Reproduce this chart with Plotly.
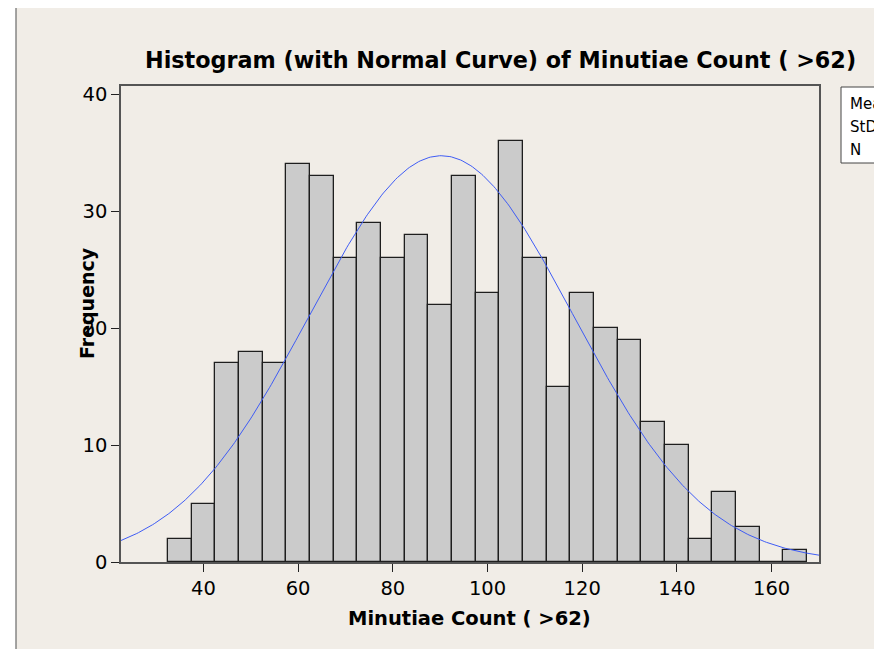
import numpy as np
import plotly.graph_objects as go

# ---- data ----
bin_centers = [35, 40, 45, 50, 55, 60, 65, 70, 75, 80, 85, 90, 95, 100, 105,
               110, 115, 120, 125, 130, 135, 140, 145, 150, 155, 160, 165]
counts = [2, 5, 17, 18, 17, 34, 33, 26, 29, 26, 28, 22, 33, 23, 36,
          26, 15, 23, 20, 19, 12, 10, 2, 6, 3, 0, 1]
bin_width = 5
x_ticks = [40, 60, 80, 100, 120, 140, 160]
y_ticks = [0, 10, 20, 30, 40]
MEAN = 90.25
STDEV = 27.9
N = sum(counts)

title = "Histogram (with Normal Curve) of Minutiae Count ( >62)"
x_title = "Minutiae Count ( >62)"
y_title = "Frequency"

# ---- layout geometry (page pixels); the page body has an 8px margin ----
OFF = 8
W, H = 882 - OFF, 649 - OFF
L, R, T, B = 121, 819, 86, 562
pw, ph = R - L, B - T
xr = [22.6, 170.0]
yr = [0, 40.71]


def px(x):
    return (x - L) / pw


def py(y):
    return (B - y) / ph


# fitted normal curve from the stated Mean / StDev / N
xc = np.linspace(xr[0], xr[1], 400)
yc = N * bin_width * np.exp(-0.5 * ((xc - MEAN) / STDEV) ** 2) / (STDEV * np.sqrt(2 * np.pi))

fig = go.Figure()
fig.add_trace(go.Bar(
    x=bin_centers, y=counts, width=bin_width,
    marker=dict(color="#cbcbcb", line=dict(color="#1e1e1e", width=1.3)),
    hoverinfo="x+y", showlegend=False,
))
fig.add_trace(go.Scatter(
    x=xc, y=yc, mode="lines",
    line=dict(color="#3f5cf5", width=1), showlegend=False,
))

BG = "#f1ede7"
AX = "#555555"
font_family = "DejaVu Sans"

shapes = [
    dict(type="rect", xref="paper", yref="paper", layer="below",
         x0=px(16), x1=px(875), y0=py(670), y1=py(7),
         fillcolor=BG, line=dict(width=0)),
    dict(type="line", xref="paper", yref="paper", layer="below",
         x0=px(16), x1=px(16), y0=py(670), y1=py(7),
         line=dict(color="#6a6a6a", width=1.2)),
    dict(type="line", xref="paper", yref="paper", layer="below",
         x0=px(16), x1=px(875), y0=py(7), y1=py(7),
         line=dict(color="#6a6a6a", width=1.2)),
    # stats box (cut off at the right edge)
    dict(type="rect", xref="paper", yref="paper", layer="above",
         x0=px(841), x1=px(1000), y0=py(163), y1=py(87),
         fillcolor="white", line=dict(color="#444444", width=1)),
]

annotations = [
    dict(text="<b>%s</b>" % title, xref="paper", yref="paper",
         x=px(500), y=py(60), xanchor="center", yanchor="middle",
         showarrow=False, font=dict(family=font_family, size=22.3, color="black")),
    dict(text="<b>%s</b>" % x_title, xref="paper", yref="paper",
         x=px(469), y=py(618), xanchor="center", yanchor="middle",
         showarrow=False, font=dict(family=font_family, size=19.5, color="black")),
    dict(text="<b>%s</b>" % y_title, xref="paper", yref="paper",
         x=px(87), y=py(303), xanchor="center", yanchor="middle", textangle=-90,
         showarrow=False, font=dict(family=font_family, size=19, color="black")),
]
stat_labels = ["Mean", "StDev", "N"]
stat_values = ["%.2f" % MEAN, "%.2f" % STDEV, "%d" % N]
for i, (lab, val) in enumerate(zip(stat_labels, stat_values)):
    yy = py(104 + i * 23)
    annotations.append(dict(text=lab, xref="paper", yref="paper", x=px(848), y=yy,
                            xanchor="left", yanchor="middle", showarrow=False,
                            font=dict(family=font_family, size=15, color="black")))
    annotations.append(dict(text=val, xref="paper", yref="paper", x=px(990), y=yy,
                            xanchor="right", yanchor="middle", showarrow=False,
                            font=dict(family=font_family, size=15, color="black")))

fig.update_layout(
    width=W, height=H, autosize=False,
    margin=dict(l=L - OFF, r=(W + OFF) - R, t=T - OFF, b=(H + OFF) - B, pad=0),
    paper_bgcolor="white", plot_bgcolor="white",
    bargap=0, showlegend=False,
    shapes=shapes, annotations=annotations,
    font=dict(family=font_family, size=19.5, color="black"),
    xaxis=dict(range=xr, tickvals=x_ticks, ticks="outside", ticklen=8, tickwidth=1,
               tickcolor="#222222", showgrid=False, zeroline=False, showline=True,
               linecolor=AX, linewidth=1.5, mirror=True,
               tickfont=dict(family=font_family, size=19.5, color="black")),
    yaxis=dict(range=yr, tickvals=y_ticks, ticks="outside", ticklen=8, tickwidth=1,
               tickcolor="#222222", showgrid=False, zeroline=False, showline=True,
               linecolor=AX, linewidth=1.5, mirror=True,
               tickfont=dict(family=font_family, size=19.5, color="black")),
)

fig.write_html("out.html")
